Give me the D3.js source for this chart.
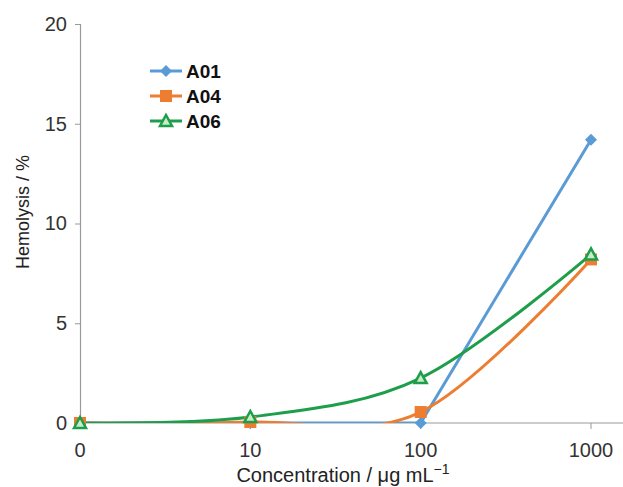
<!DOCTYPE html>
<html>
<head>
<meta charset="utf-8">
<script src="https://cdn.jsdelivr.net/npm/d3@7"></script>
<style>
  body { margin: 0; background: #fff; }
  text { font-family: Arial, "Liberation Sans", sans-serif; }
</style>
</head>
<body>
<div id="chart"></div>
<script>
// concentrazioni (asse categorico) e serie di emolisi
const concentrazioni = ['0', '10', '100', '1000'];
const yTicks = [0, 5, 10, 15, 20];
const a01 = [0, 0, 0, 14.2];
const a04 = [0, 0.05, 0.55, 8.2];
const a06 = [0, 0.3, 2.25, 8.45];

const serie = [
  { nome: 'A01', valori: a01, colore: '#5b9bd5', marker: 'diamond', smooth: false },
  { nome: 'A04', valori: a04, colore: '#ed7d31', marker: 'square', smooth: true },
  { nome: 'A06', valori: a06, colore: '#1e9e4a', marker: 'triangle', smooth: true }
];

const width = 623, height = 487;

const svg = d3.select('#chart').append('svg')
  .attr('width', width)
  .attr('height', height);

// x: punti equidistanti, 0 sull'asse y
const x = d3.scalePoint()
  .domain(concentrazioni)
  .range([80, 591]);

const y = d3.scaleLinear()
  .domain([0, 20])
  .range([423, 24]);

// clip: le linee lisce non scendono sotto lo zero
svg.append('defs').append('clipPath').attr('id', 'area')
  .append('rect')
  .attr('x', x.range()[0]).attr('y', y(20))
  .attr('width', width - x.range()[0]).attr('height', y(0) - y(20));

// asse y
const assey = svg.append('g')
  .attr('transform', `translate(${x.range()[0]},0)`)
  .call(d3.axisLeft(y).tickValues(yTicks).tickSize(5).tickPadding(8));
assey.select('.domain').attr('stroke', '#999').attr('stroke-width', 1.2);
assey.selectAll('.tick line').attr('stroke', '#999');
assey.selectAll('.tick text').attr('fill', '#333').style('font-size', '20px');

// asse x
const assex = svg.append('g')
  .attr('transform', `translate(0,${y(0)})`);
assex.append('line')
  .attr('x1', x.range()[0]).attr('x2', width)
  .attr('stroke', '#999').attr('stroke-width', 1.2);
assex.selectAll('.tk')
  .data(concentrazioni)
  .join('line')
  .attr('x1', d => x(d)).attr('x2', d => x(d))
  .attr('y1', 0).attr('y2', 6)
  .attr('stroke', '#999');
assex.selectAll('.lbl')
  .data(concentrazioni)
  .join('text')
  .attr('x', d => x(d))
  .attr('y', 34)
  .attr('text-anchor', 'middle')
  .attr('fill', '#333')
  .style('font-size', '20px')
  .text(d => d);

// titoli assi
svg.append('text')
  .attr('transform', 'translate(29,212) rotate(-90)')
  .attr('text-anchor', 'middle')
  .attr('fill', '#222')
  .style('font-size', '18px')
  .text('Hemolysis / %');

const tx = svg.append('text')
  .attr('x', 343).attr('y', 482)
  .attr('text-anchor', 'middle')
  .attr('fill', '#222')
  .style('font-size', '20px')
  .text('Concentration / μg mL');
tx.append('tspan').attr('dy', -8).style('font-size', '14px').text('−1');

// simboli
function disegnaMarker(g, tipo, colore, cx, cy) {
  if (tipo === 'diamond') {
    g.append('path')
      .attr('d', `M${cx},${cy - 6}L${cx + 6},${cy}L${cx},${cy + 6}L${cx - 6},${cy}Z`)
      .attr('fill', colore);
  } else if (tipo === 'square') {
    g.append('rect')
      .attr('x', cx - 6).attr('y', cy - 6).attr('width', 12).attr('height', 12)
      .attr('fill', colore);
  } else {
    g.append('path')
      .attr('d', `M${cx},${cy - 6}L${cx + 6},${cy + 5}L${cx - 6},${cy + 5}Z`)
      .attr('fill', '#c8ecc8').attr('stroke', colore).attr('stroke-width', 2.5)
      .attr('stroke-linejoin', 'miter');
  }
}

serie.forEach(s => {
  const punti = s.valori.map((v, i) => [x(concentrazioni[i]), y(v)]);
  const linea = d3.line()
    .curve(s.smooth ? d3.curveCardinal.tension(0) : d3.curveLinear);
  svg.append('path')
    .attr('d', linea(punti))
    .attr('clip-path', 'url(#area)')
    .attr('fill', 'none')
    .attr('stroke', s.colore)
    .attr('stroke-width', 3);
});

serie.forEach(s => {
  const g = svg.append('g');
  s.valori.forEach((v, i) => disegnaMarker(g, s.marker, s.colore, x(concentrazioni[i]), y(v)));
});

// legenda
const legenda = svg.append('g').attr('transform', 'translate(150,71)');
serie.forEach((s, i) => {
  const r = legenda.append('g').attr('transform', `translate(0,${i * 25})`);
  r.append('line').attr('x1', 0).attr('x2', 32).attr('y1', 0).attr('y2', 0)
    .attr('stroke', s.colore).attr('stroke-width', 3);
  disegnaMarker(r, s.marker, s.colore, 16, 0);
  r.append('text')
    .attr('x', 36).attr('y', 7)
    .style('font-size', '19px')
    .style('font-weight', 'bold')
    .attr('fill', '#111')
    .text(s.nome);
});
</script>
</body>
</html>
